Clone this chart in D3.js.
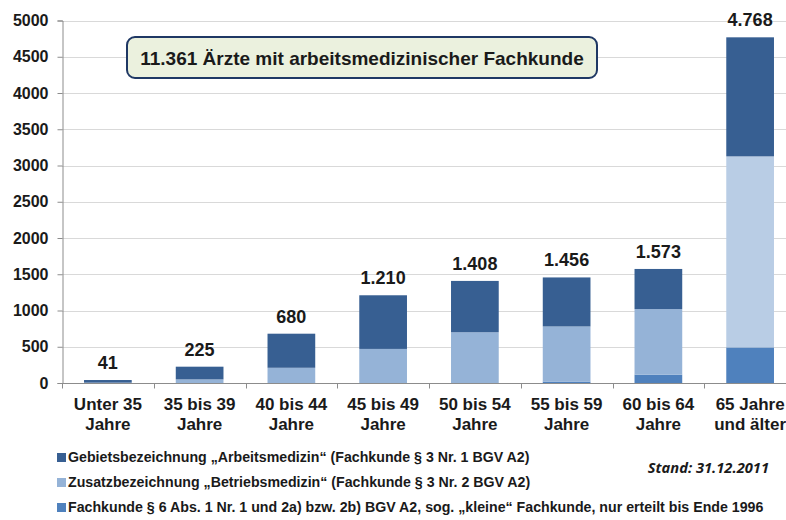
<!DOCTYPE html>
<html>
<head>
<meta charset="utf-8">
<script src="https://cdn.jsdelivr.net/npm/d3@7"></script>
<style>
  body { margin: 0; background: #fff; }
  svg { display: block; font-family: "Liberation Sans", Arial, sans-serif; }
</style>
</head>
<body>
<div id="chart"></div>
<script>
// Age groups (two-line labels)
const categories = [
  ["Unter 35", "Jahre"],
  ["35 bis 39", "Jahre"],
  ["40 bis 44", "Jahre"],
  ["45 bis 49", "Jahre"],
  ["50 bis 54", "Jahre"],
  ["55 bis 59", "Jahre"],
  ["60 bis 64", "Jahre"],
  ["65 Jahre", "und älter"],
];

// Stacked from the bottom up
const kleineFachkunde = [0, 0, 0, 0, 0, 20, 115, 491];
const zusatzBetriebsmedizin = [5, 50, 210, 470, 700, 760, 905, 2635];
const gebietArbeitsmedizin = [36, 175, 470, 740, 708, 676, 553, 1642];

const totals = [41, 225, 680, 1210, 1408, 1456, 1573, 4768];

const yTicks = [0, 500, 1000, 1500, 2000, 2500, 3000, 3500, 4000, 4500, 5000];

const seriesNames = [
  "Gebietsbezeichnung „Arbeitsmedizin“ (Fachkunde § 3 Nr. 1 BGV A2)",
  "Zusatzbezeichnung „Betriebsmedizin“ (Fachkunde § 3 Nr. 2 BGV A2)",
  "Fachkunde § 6 Abs. 1 Nr. 1 und 2a) bzw. 2b) BGV A2, sog. „kleine“ Fachkunde, nur erteilt bis Ende 1996",
];

const titleText = "11.361 Ärzte mit arbeitsmedizinischer Fachkunde";
const standText = "Stand: 31.12.2011";

const width = 786;
const height = 520;

const colors = {
  gebiet: "#375f92",
  zusatz: "#95b3d7",
  zusatzLight: "#b9cde5",
  klein: "#4f81bd",
};

const fmt = (v) => d3.format(",")(v).replace(/,/g, ".");

const svg = d3
  .select("#chart")
  .append("svg")
  .attr("width", width)
  .attr("height", height);

const x = d3
  .scaleBand()
  .domain(d3.range(categories.length))
  .range([62, 796])
  .paddingInner(0.48)
  .paddingOuter(0.24);

const y = d3.scaleLinear().domain([0, 5000]).range([383, 20.5]);

// Gridlines
svg
  .append("g")
  .selectAll("line")
  .data(yTicks.filter((t) => t > 0))
  .join("line")
  .attr("x1", 62)
  .attr("x2", width)
  .attr("y1", (d) => Math.round(y(d)) + 0.5)
  .attr("y2", (d) => Math.round(y(d)) + 0.5)
  .attr("stroke", "#d9d9d9")
  .attr("stroke-width", 1);

// Y axis
const yAxis = svg
  .append("g")
  .attr("transform", "translate(62.5,0)")
  .call(d3.axisLeft(y).tickValues(yTicks).tickSize(5).tickPadding(9).tickFormat(d3.format("d")));
yAxis.select(".domain").attr("stroke", "#8c8c8c");
yAxis.selectAll(".tick line").attr("stroke", "#8c8c8c");
yAxis
  .selectAll(".tick text")
  .attr("font-family", "Liberation Sans, Arial, sans-serif")
  .attr("font-size", 16)
  .attr("font-weight", "bold")
  .attr("fill", "#1a1a1a");

// Stacked bars
const table = categories.map((c, i) => ({
  i,
  klein: kleineFachkunde[i],
  zusatz: zusatzBetriebsmedizin[i],
  gebiet: gebietArbeitsmedizin[i],
}));
const stack = d3.stack().keys(["klein", "zusatz", "gebiet"])(table);

svg
  .append("g")
  .selectAll("g")
  .data(stack)
  .join("g")
  .selectAll("rect")
  .data((s) => s.map((d) => ({ key: s.key, d })))
  .join("rect")
  .attr("x", (p) => x(p.d.data.i))
  .attr("width", x.bandwidth())
  .attr("y", (p) => y(p.d[1]))
  .attr("height", (p) => y(p.d[0]) - y(p.d[1]))
  .attr("fill", (p) => {
    // the last bar uses a paler tint in the original
    if (p.key === "zusatz" && p.d.data.i === categories.length - 1) return colors.zusatzLight;
    return colors[p.key];
  });

// X axis
const xAxisG = svg.append("g").attr("transform", "translate(0,383.5)");
xAxisG
  .append("line")
  .attr("x1", 62)
  .attr("x2", width)
  .attr("stroke", "#8c8c8c");
xAxisG
  .selectAll("line.tick")
  .data(d3.range(categories.length + 1))
  .join("line")
  .attr("class", "tick")
  .attr("x1", (i) => Math.round(62 + i * x.step()) + 0.5)
  .attr("x2", (i) => Math.round(62 + i * x.step()) + 0.5)
  .attr("y1", 0)
  .attr("y2", 5)
  .attr("stroke", "#8c8c8c");

const xLabels = svg
  .append("g")
  .selectAll("text")
  .data(categories)
  .join("text")
  .attr("x", (d, i) => x(i) + x.bandwidth() / 2)
  .attr("y", 410)
  .attr("text-anchor", "middle")
  .attr("font-size", 17)
  .attr("font-weight", "bold")
  .attr("fill", "#1a1a1a");
xLabels
  .selectAll("tspan")
  .data((d) => d)
  .join("tspan")
  .attr("x", function () {
    return this.parentNode.getAttribute("x");
  })
  .attr("dy", (d, j) => (j === 0 ? 0 : 20))
  .text((d) => d);

// Total labels above bars
svg
  .append("g")
  .selectAll("text")
  .data(totals)
  .join("text")
  .attr("x", (d, i) => x(i) + x.bandwidth() / 2)
  .attr("y", (d) => y(d) - 11)
  .attr("text-anchor", "middle")
  .attr("font-size", 18)
  .attr("font-weight", "bold")
  .attr("fill", "#1a1a1a")
  .text((d) => fmt(d));

// Title box
const title = svg.append("g");
title
  .append("rect")
  .attr("x", 127)
  .attr("y", 37)
  .attr("width", 470)
  .attr("height", 41)
  .attr("rx", 8)
  .attr("fill", "#ebf1de")
  .attr("stroke", "#1f3864")
  .attr("stroke-width", 2);
title
  .append("text")
  .attr("x", 362)
  .attr("y", 64.5)
  .attr("text-anchor", "middle")
  .attr("font-size", 19)
  .attr("font-weight", "bold")
  .attr("fill", "#1a1a1a")
  .text(titleText);

// Legend
const legendColors = [colors.gebiet, colors.zusatz, colors.klein];
const legend = svg
  .append("g")
  .selectAll("g")
  .data(seriesNames)
  .join("g")
  .attr("transform", (d, i) => `translate(57,${453 + i * 25})`);
legend
  .append("rect")
  .attr("width", 9)
  .attr("height", 9)
  .attr("fill", (d, i) => legendColors[i]);
legend
  .append("text")
  .attr("x", 11)
  .attr("y", 9)
  .attr("font-size", 14.2)
  .attr("font-weight", "bold")
  .attr("fill", "#1a1a1a")
  .text((d) => d);

// Stand
svg
  .append("text")
  .attr("x", 769)
  .attr("y", 473)
  .attr("text-anchor", "end")
  .attr("font-family", "Open Sans, sans-serif")
  .attr("font-size", 14.7)
  .attr("font-weight", "bold")
  .attr("font-style", "italic")
  .attr("fill", "#1a1a1a")
  .text(standText);
</script>
</body>
</html>
